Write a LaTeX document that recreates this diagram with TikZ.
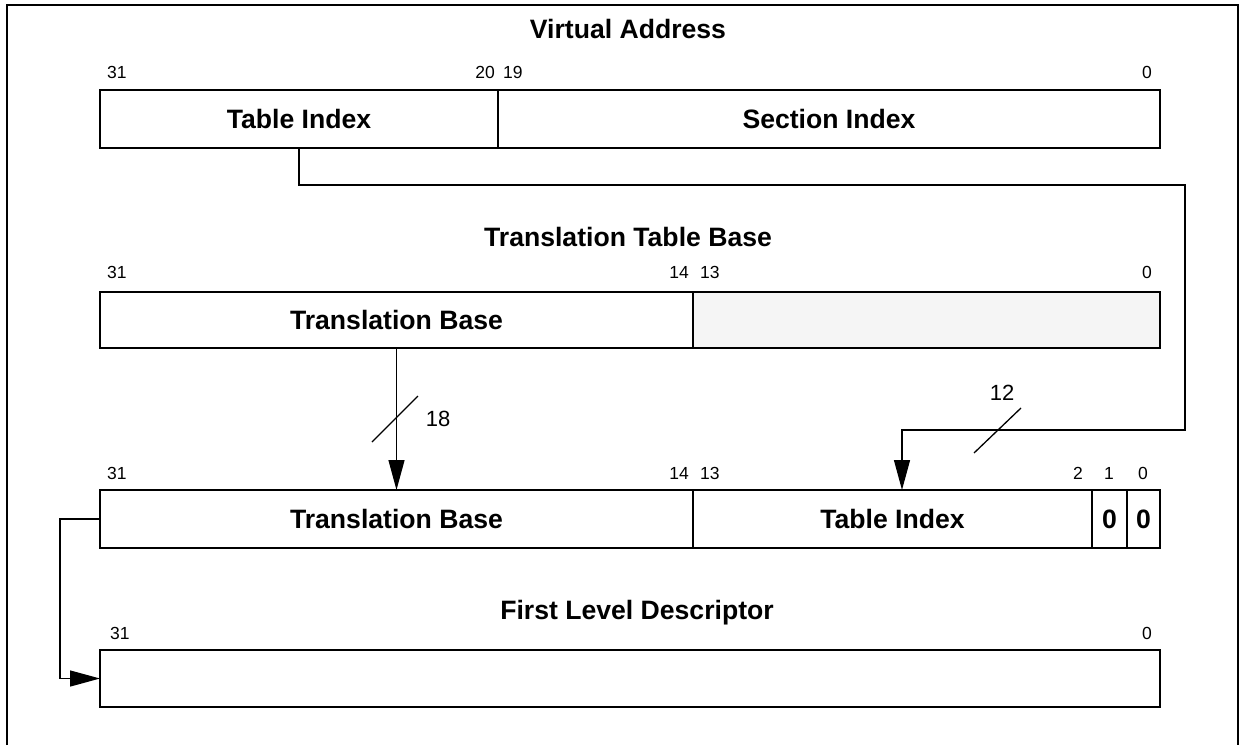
\documentclass[tikz,border=0pt]{standalone}
\usepackage{fontspec}
\setmainfont{Liberation Sans}
\usetikzlibrary{arrows.meta}
\begin{document}
\begin{tikzpicture}[x=1pt,y=-1pt,
  cell/.style={draw, line width=1.3pt, inner sep=0pt, outer sep=0pt, anchor=north west,
    font=\fontsize{26.6}{30}\selectfont\bfseries},
  title/.style={inner sep=0pt, anchor=base, font=\fontsize{26.6}{30}\selectfont\bfseries},
  bitw/.style={inner sep=0pt, anchor=base west, font=\fontsize{17.5}{20}\selectfont},
  bite/.style={inner sep=0pt, anchor=base east, font=\fontsize{17.5}{20}\selectfont},
  bitc/.style={inner sep=0pt, anchor=base, font=\fontsize{17.5}{20}\selectfont},
  width/.style={inner sep=0pt, font=\fontsize{22}{26}\selectfont},
  conn/.style={line width=1.3pt},
  arr/.style={line width=1.3pt, -{Triangle[length=30pt,width=16pt]}}]
\useasboundingbox (0,0) rectangle (1243,745);
\fill[white] (0,0) rectangle (1243,745);
% outer frame
\draw[line width=2pt] (7,745) -- (7,5) -- (1238,5) -- (1238,745);

% Row 1: Virtual Address
\node[title] (t1) at (628,38) {Virtual Address};
\node[bitw] (b1a) at (107,78) {31};
\node[bite] (b1b) at (495,78) {20};
\node[bitw] (b1c) at (503,78) {19};
\node[bite] (b1d) at (1152,78) {0};
\node[cell, minimum width=398pt, minimum height=58pt] (ti1) at (100,90) {Table Index};
\node[cell, minimum width=662pt, minimum height=58pt] (si1) at (498,90) {Section Index};

% Row 2: Translation Table Base
\node[title] (t2) at (628,246) {Translation Table Base};
\node[bitw] (b2a) at (107,278) {31};
\node[bite] (b2b) at (689,278) {14};
\node[bitw] (b2c) at (700,278) {13};
\node[bite] (b2d) at (1152,278) {0};
\node[cell, minimum width=593pt, minimum height=56pt] (tb2) at (100,292) {Translation Base};
\node[cell, fill=black!4, minimum width=467pt, minimum height=56pt] (rs2) at (693,292) {};

% Row 3
\node[bitw] (b3a) at (107,479) {31};
\node[bite] (b3b) at (689,479) {14};
\node[bitw] (b3c) at (700,479) {13};
\node[bitc] (b3d) at (1078,479) {2};
\node[bitc] (b3e) at (1109,479) {1};
\node[bitc] (b3f) at (1143,479) {0};
\node[cell, minimum width=593pt, minimum height=58pt] (tb3) at (100,490) {Translation Base};
\node[cell, minimum width=399pt, minimum height=58pt] (ti3) at (693,490) {Table Index};
\node[cell, minimum width=35pt, minimum height=58pt] (z1) at (1092,490) {0};
\node[cell, minimum width=33pt, minimum height=58pt] (z0) at (1127,490) {0};

% Row 4: First Level Descriptor
\node[title] (t4) at (637,619) {First Level Descriptor};
\node[bitw] (b4a) at (110,639) {31};
\node[bite] (b4b) at (1152,639) {0};
\node[cell, minimum width=1060pt, minimum height=57pt] (fld) at (100,650) {};

% connectors
\coordinate (r1) at (1185,185);
\coordinate (r2) at (902,430);
\draw[arr] (ti1.south) |- (r1) |- (r2) -- (r2 |- ti3.north);
\draw[arr] (tb2.south) -- (tb3.north);
\draw[arr] (tb3.west) -- ++(-40,0) |- (fld.west);

% width marks
\coordinate (s1a) at (372,442);
\coordinate (s1b) at (418,396);
\draw[conn] (s1a) -- (s1b);
\node[width] (w18) at (438,419) {18};
\coordinate (s2a) at (974,453);
\coordinate (s2b) at (1021,408);
\draw[conn] (s2a) -- (s2b);
\node[width] (w12) at (1002,393) {12};
\end{tikzpicture}
\end{document}
